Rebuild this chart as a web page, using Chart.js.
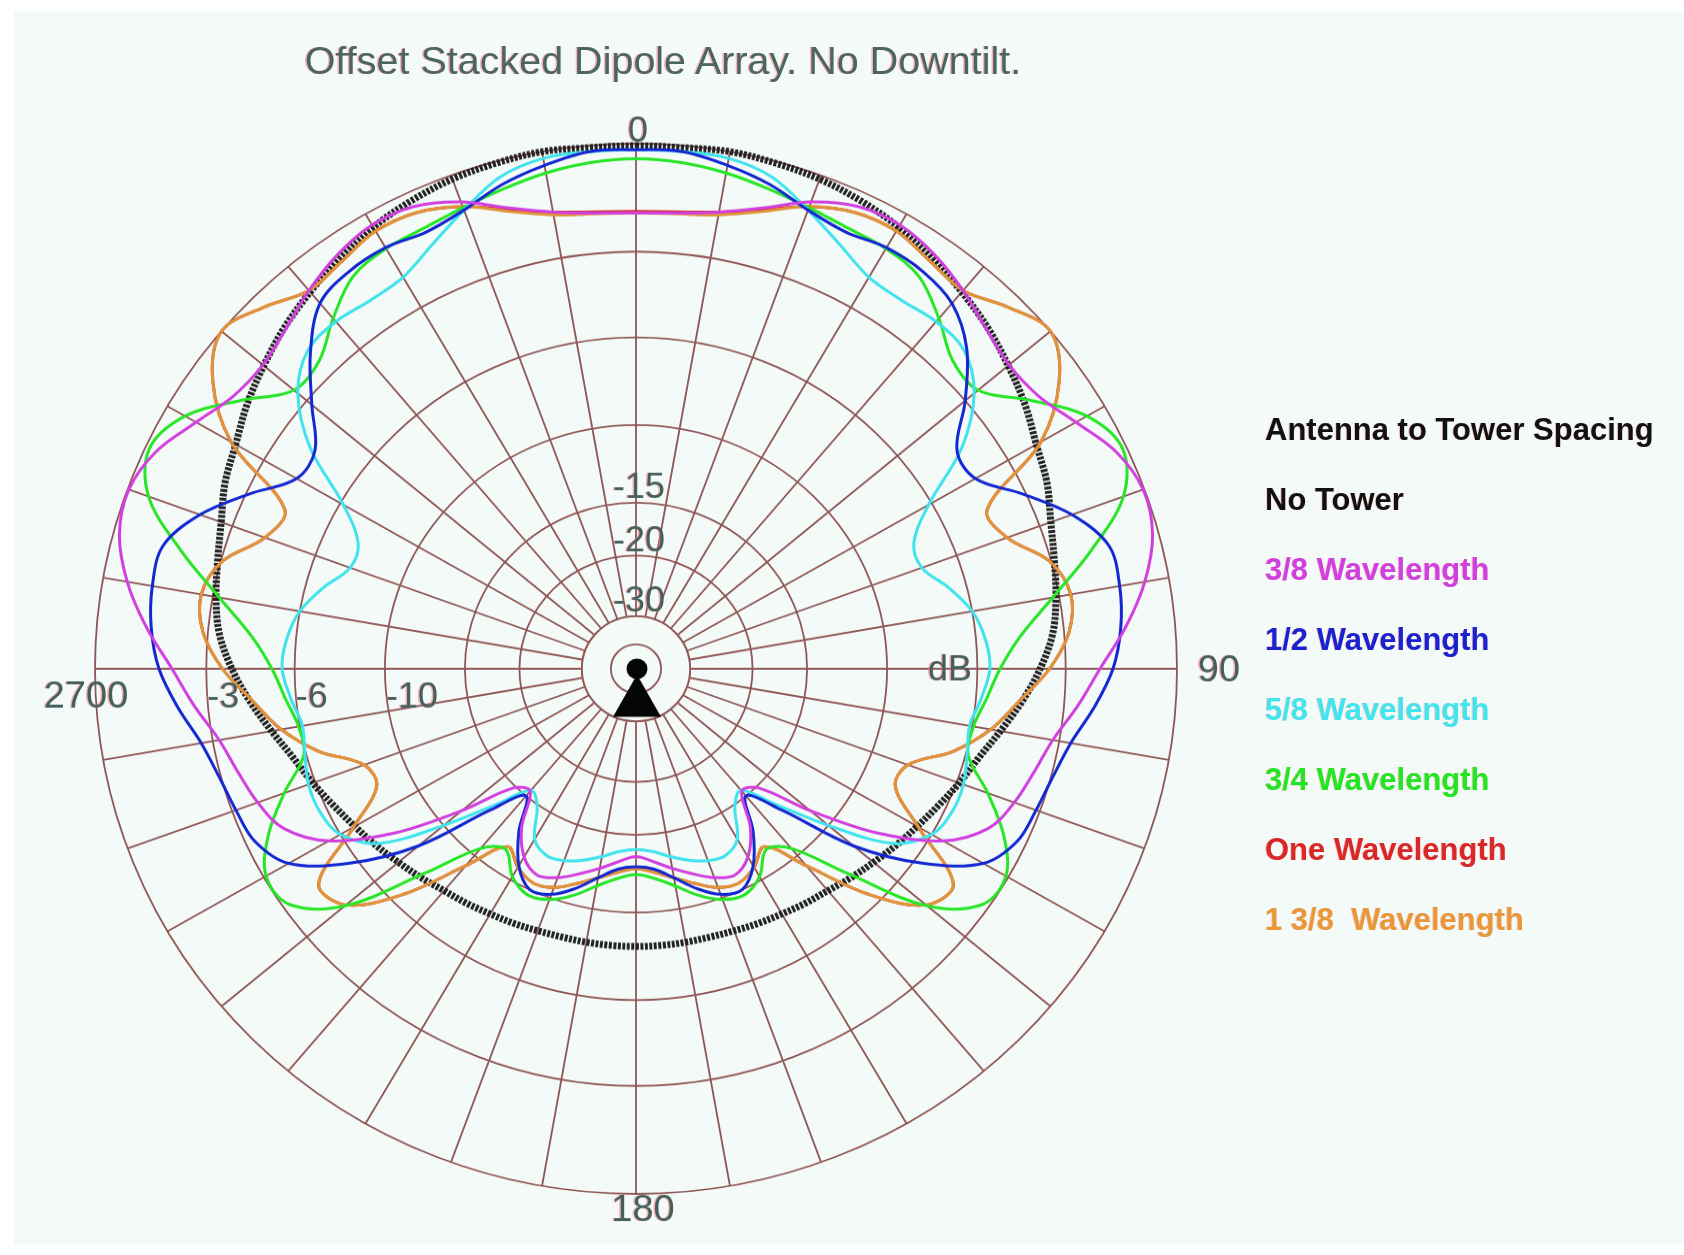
<!DOCTYPE html>
<html>
<head>
<meta charset="utf-8">
<script src="https://cdn.jsdelivr.net/npm/chart.js@4/dist/chart.umd.min.js"></script>
<style>
html,body{margin:0;padding:0;background:#ffffff;width:1684px;height:1255px;overflow:hidden;}
#bg{position:absolute;left:14px;top:12px;width:1670px;height:1232px;background:#f4faf7;}
#wrap{position:absolute;left:0;top:0;width:1684px;height:1293px;transform:scaleY(0.970611);transform-origin:0 0;}
#title{position:absolute;left:0;width:1326px;top:38px;text-align:center;font:39.5px "Liberation Sans",Arial,sans-serif;color:#4a6664;text-shadow:-1.5px 0 0 rgba(255,120,120,.55);white-space:nowrap;}
#legend{position:absolute;left:1265px;top:412px;font:bold 31px "Liberation Sans",Arial,sans-serif;}
#legend div{height:70px;line-height:36px;white-space:pre;text-shadow:-1px 0 0 rgba(255,120,120,.35);}
</style>
</head>
<body>
<div id="bg"></div>
<div id="wrap"><canvas id="c"></canvas></div>
<div id="title"></div>
<div id="legend"></div>
<script>
// ---------- data ----------
const chartTitle = 'Offset Stacked Dipole Array. No Downtilt.';
const legendTitle = 'Antenna to Tower Spacing';

// azimuth categories (degrees, clockwise from top)
const angles = ['0','5','10','15','20','25','30','35','40','45','50','55','60','65','70','75','80','85',
 '90','95','100','105','110','115','120','125','130','135','140','145','150','155','160','165','170','175',
 '180','185','190','195','200','205','210','215','220','225','230','235','240','245','250','255','260','265',
 '270','275','280','285','290','295','300','305','310','315','320','325','330','335','340','345','350','355'];

// cardinal angle labels and dB ring labels
const cardinalLabels = ['0', '90', '180', '2700'];
const ringDb = [-40, -30, -20, -15, -10, -6, -3, 0];
const dbLabelsH = ['-3', '-6', '-10'];
const dbLabelsV = ['-15', '-20', '-30'];
const unitLabel = 'dB';

// series names / colours
const seriesNames = ['No Tower', '3/8 Wavelength', '1/2 Wavelength', '5/8 Wavelength', '3/4 Wavelength', 'One Wavelength', '1 3/8  Wavelength'];
const seriesColors = ['#232323', '#d23fe0', '#1428d2', '#3fe3ee', '#26e626', '#d62b2b', '#e0953a'];
const legendColors = ['#111111', '#d040e0', '#1a22d0', '#3fe6f0', '#22e622', '#d82828', '#e89838'];

// relative gain (dB) at each azimuth
const noTower = [-0.05,-0.05,0,-0.04,-0.1,-0.22,-0.38,-0.6,-0.85,-1.1,-1.4,-1.7,-2.05,-2.3,-2.65,-2.9,-3.1,-3.35,
 -3.8,-4.35,-4.95,-5.5,-5.9,-6.3,-6.65,-6.95,-7.25,-7.5,-7.75,-7.9,-8.05,-8.15,-8.25,-8.3,-8.3,-8.3,
 -8.3,-8.3,-8.3,-8.3,-8.25,-8.15,-8.05,-7.9,-7.75,-7.5,-7.25,-6.95,-6.65,-6.3,-5.9,-5.5,-4.95,-4.35,
 -3.8,-3.35,-3.1,-2.9,-2.65,-2.3,-2.05,-1.7,-1.4,-1.1,-0.85,-0.6,-0.38,-0.22,-0.1,-0.04,0,-0.05];

const wl3_8 = [-1.84,-1.8,-1.62,-1.25,-0.72,-0.38,-0.32,-0.5,-0.8,-1.15,-1.37,-1.27,-0.82,-0.28,-0.03,-0.15,-0.6,-1.25,
 -2.0,-2.6,-3.2,-3.55,-3.85,-4.3,-5.5,-7.9,-11.3,-14.8,-15.5,-13.0,-11.5,-10.9,-11.2,-11.8,-12.4,-13.0,
 -13.4,-13.0,-12.4,-11.8,-11.2,-10.9,-11.5,-13.0,-15.5,-14.8,-11.3,-7.9,-5.5,-4.3,-3.85,-3.55,-3.2,-2.6,
 -2.0,-1.25,-0.6,-0.15,-0.03,-0.28,-0.82,-1.27,-1.37,-1.15,-0.8,-0.5,-0.32,-0.38,-0.72,-1.25,-1.62,-1.8];

const wl1_2 = [-0.15,-0.15,-0.35,-0.6,-0.95,-1.12,-1.0,-1.03,-1.25,-1.9,-3.0,-4.2,-4.2,-3.1,-2.0,-1.3,-1.26,-1.38,
 -1.64,-2.12,-2.65,-2.95,-3.12,-3.28,-3.9,-5.7,-8.4,-12.6,-15.0,-12.7,-10.9,-10.0,-10.2,-10.9,-11.8,-12.5,
 -12.7,-12.5,-11.8,-10.9,-10.2,-10.0,-10.9,-12.7,-15.0,-12.6,-8.4,-5.7,-3.9,-3.28,-3.12,-2.95,-2.65,-2.12,
 -1.64,-1.38,-1.26,-1.3,-2.0,-3.1,-4.2,-4.2,-3.2,-2.1,-1.25,-1.03,-1.0,-1.12,-0.95,-0.6,-0.35,-0.15];

const wl5_8 = [-0.15,-0.15,-0.17,-0.4,-0.95,-1.5,-1.95,-2.02,-1.92,-2.0,-2.65,-4.0,-6.13,-7.4,-7.5,-6.7,-6.0,-5.65,
 -5.53,-5.8,-6.1,-5.95,-5.73,-5.72,-6.0,-7.1,-10.0,-13.1,-15.6,-14.9,-12.8,-12.2,-12.3,-12.7,-13.2,-13.7,
 -13.9,-13.7,-13.2,-12.7,-12.3,-12.2,-12.8,-14.9,-15.6,-13.1,-10.0,-7.1,-6.0,-5.72,-5.73,-5.95,-6.1,-5.8,
 -5.53,-5.65,-6.0,-6.7,-7.5,-7.4,-6.13,-4.0,-2.65,-2.0,-1.92,-2.02,-1.95,-1.5,-0.95,-0.4,-0.17,-0.15];

const wl3_4 = [-0.38,-0.43,-0.55,-0.72,-0.88,-1.0,-1.03,-1.2,-1.8,-2.45,-2.5,-1.5,-0.5,-0.1,-0.55,-1.8,-3.2,-4.4,
 -5.16,-5.6,-5.95,-5.9,-4.8,-3.75,-3.08,-3.2,-4.6,-7.8,-10.5,-11.3,-10.2,-9.7,-9.9,-10.5,-11.3,-11.9,
 -12.2,-11.9,-11.3,-10.5,-9.9,-9.7,-10.2,-11.3,-10.5,-7.8,-4.6,-3.2,-3.08,-3.75,-4.8,-5.9,-5.95,-5.6,
 -5.16,-4.4,-3.2,-1.8,-0.55,-0.1,-0.5,-1.5,-2.5,-2.45,-1.8,-1.2,-1.03,-1.0,-0.88,-0.72,-0.55,-0.43];

const wl1 = [-1.8,-1.76,-1.62,-1.3,-0.85,-0.55,-0.5,-0.7,-0.8,-0.35,0.0,-0.6,-1.9,-4.35,-4.1,-3.05,-2.65,-2.85,
 -3.5,-4.45,-5.3,-6.5,-8.15,-8.3,-6.6,-4.35,-4.65,-6.5,-9.3,-11.5,-10.8,-10.4,-10.6,-11.2,-11.8,-12.3,
 -12.6,-12.3,-11.8,-11.2,-10.6,-10.4,-10.8,-11.5,-9.3,-6.5,-4.65,-4.35,-6.6,-8.3,-8.15,-6.5,-5.3,-4.45,
 -3.5,-2.85,-2.65,-3.05,-4.1,-4.35,-1.9,-0.6,0.0,-0.35,-0.8,-0.7,-0.5,-0.55,-0.85,-1.3,-1.62,-1.76];

const wl1_3_8 = [-1.85,-1.82,-1.7,-1.35,-0.85,-0.55,-0.5,-0.7,-0.8,-0.35,0.0,-0.6,-1.9,-4.35,-4.1,-3.05,-2.65,-2.85,
 -3.5,-4.45,-5.3,-6.5,-8.15,-8.3,-6.6,-4.35,-4.65,-6.5,-9.3,-11.5,-10.8,-10.4,-10.6,-11.2,-11.8,-12.3,
 -12.6,-12.3,-11.8,-11.2,-10.6,-10.4,-10.8,-11.5,-9.3,-6.5,-4.65,-4.35,-6.6,-8.3,-8.15,-6.5,-5.3,-4.45,
 -3.5,-2.85,-2.65,-3.05,-4.1,-4.35,-1.9,-0.6,0.0,-0.35,-0.8,-0.7,-0.5,-0.55,-0.85,-1.35,-1.7,-1.82];

const seriesData = [noTower, wl3_8, wl1_2, wl5_8, wl3_4, wl1, wl1_3_8];
const seriesOrder = [7, 1, 2, 3, 4, 6, 5];

// ---------- styling ----------
const bgColor = '#f4faf7';
const gridColor = '#8f5656';
const textColor = '#43605e';
// ARRL-like radial mapping: radius proportional to 10^(dB/30)
const toR = db => Math.pow(10, db / 30);

document.getElementById('title').textContent = chartTitle;
const leg = document.getElementById('legend');
[[legendTitle, '#111111']].concat(seriesNames.map((n, i) => [n, legendColors[i]])).forEach(([t, c]) => {
  const d = document.createElement('div');
  d.textContent = t; d.style.color = c; leg.appendChild(d);
});

const K = 0.970611; // vertical squeeze of the reference picture

const centerPlugin = {
  id: 'centerDisk',
  beforeDatasetsDraw(chart) {
    const s = chart.scales.r, c = chart.ctx;
    const r30 = s.getDistanceFromCenterForValue(toR(-30));
    const r40 = s.getDistanceFromCenterForValue(toR(-40));
    c.save();
    c.fillStyle = bgColor;
    c.beginPath(); c.arc(s.xCenter, s.yCenter, r30, 0, Math.PI * 2); c.fill();
    c.strokeStyle = gridColor; c.lineWidth = 1.8;
    c.beginPath(); c.arc(s.xCenter, s.yCenter, r30, 0, Math.PI * 2); c.stroke();
    c.beginPath(); c.arc(s.xCenter, s.yCenter, r40, 0, Math.PI * 2); c.stroke();
    // tower symbol
    c.fillStyle = '#050505';
    c.beginPath(); c.arc(s.xCenter + 1, s.yCenter, 10.5, 0, Math.PI * 2); c.fill();
    c.beginPath();
    c.moveTo(s.xCenter + 1, s.yCenter + 6);
    c.lineTo(s.xCenter + 25, s.yCenter + 49.5);
    c.lineTo(s.xCenter - 23, s.yCenter + 49.5);
    c.closePath(); c.fill();
    c.restore();
  }
};

const labelPlugin = {
  id: 'polarLabels',
  afterDraw(chart) {
    const s = chart.scales.r, c = chart.ctx;
    const xc = s.xCenter, yc = s.yCenter, R = s.drawingArea;
    c.save();
    c.fillStyle = textColor;
    c.shadowColor = 'rgba(255,110,110,0.55)';
    c.shadowOffsetX = -1.5;
    c.textBaseline = 'middle';
    c.font = '36px "Liberation Sans", Arial, sans-serif';
    c.textAlign = 'center';
    c.fillText(cardinalLabels[0], xc + 2, yc - R - 11.5 / K);
    c.font = '38px "Liberation Sans", Arial, sans-serif';
    c.fillText(cardinalLabels[1], xc + 583, yc + 2 / K);
    c.fillText(cardinalLabels[2], xc + 7, yc + R + 17 / K);
    c.fillText(cardinalLabels[3], xc - 550, yc + 29 / K);
    c.font = '36px "Liberation Sans", Arial, sans-serif';
    c.textAlign = 'left';
    [-3, -6, -10].forEach((db, i) => {
      c.fillText(dbLabelsH[i], xc - s.getDistanceFromCenterForValue(toR(db)) + 1, yc + 29 / K);
    });
    c.textAlign = 'center';
    [-15, -20, -30].forEach((db, i) => {
      c.fillText(dbLabelsV[i], xc + 3, yc - s.getDistanceFromCenterForValue(toR(db)) - 14 / K);
    });
    c.fillText(unitLabel, xc + 314, yc + 2 / K);
    c.restore();
  }
};

new Chart(document.getElementById('c'), {
  type: 'radar',
  data: {
    labels: angles,
    datasets: seriesData.map((arr, i) => ({
      label: seriesNames[i],
      data: arr.map(toR),
      borderColor: seriesColors[i],
      backgroundColor: 'rgba(0,0,0,0)',
      borderWidth: i === 0 ? 7 : 3,
      borderDash: i === 0 ? [3, 1.5] : [],
      fill: false,
      pointRadius: 0,
      pointHoverRadius: 0,
      tension: 0.35,
      order: seriesOrder[i]
    }))
  },
  options: {
    responsive: true,
    maintainAspectRatio: false,
    animation: false,
    devicePixelRatio: 1,
    layout: { padding: { left: 95, right: 507, top: 148, bottom: 63 } },
    plugins: { legend: { display: false }, tooltip: { enabled: false }, title: { display: false } },
    scales: {
      r: {
        min: 0, max: 1, startAngle: 0,
        ticks: { display: false },
        pointLabels: { display: false },
        grid: { circular: true, color: gridColor, lineWidth: 1.8 },
        angleLines: {
          color: ctx => (ctx.index % 2 === 0 ? gridColor : 'rgba(0,0,0,0)'),
          lineWidth: ctx => (ctx.index % 2 === 0 ? 1.8 : 0)
        },
        afterBuildTicks: axis => {
          axis.ticks = [0].concat(ringDb.map(toR)).map(v => ({ value: v }));
        }
      }
    }
  },
  plugins: [centerPlugin, labelPlugin]
});
</script>
</body>
</html>
